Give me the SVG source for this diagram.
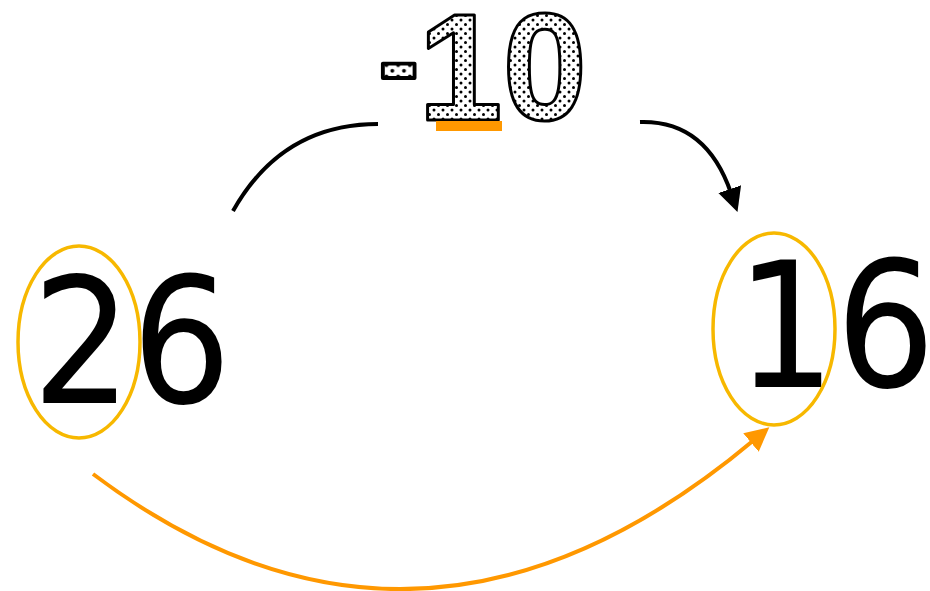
<svg xmlns="http://www.w3.org/2000/svg" width="930" height="591" viewBox="0 0 930 591">
<style>
.num{font-family:"DejaVu Sans",sans-serif;font-size:174px;fill:#000}
.ring{fill:none;stroke:#F7B800;stroke-width:3.5}
.dot{font-family:"Liberation Sans",Arial,sans-serif;font-weight:bold;fill:url(#dots);stroke:#000;stroke-width:3;stroke-linejoin:round}
.blk{fill:none;stroke:#000;stroke-width:4}
.org{fill:none;stroke:#FF9800;stroke-width:4}
</style>
<defs>
<pattern id="dots" width="9" height="9" patternUnits="userSpaceOnUse">
<rect width="9" height="9" fill="#fff"/>
<circle cx="2" cy="2" r="1.5" fill="#000"/>
<circle cx="6.5" cy="6.5" r="1.5" fill="#000"/>
</pattern>
<marker id="ab" markerWidth="26" markerHeight="24" refX="4" refY="12" orient="auto" markerUnits="userSpaceOnUse">
<path d="M0,0 L24,12 L0,24 z" fill="#000"/>
</marker>
<marker id="ao" markerWidth="26" markerHeight="24" refX="4" refY="12" orient="auto" markerUnits="userSpaceOnUse">
<path d="M0,0 L24,12 L0,24 z" fill="#FF9800"/>
</marker>
</defs>
<g id="label-minus10">
<text class="dot" transform="translate(378,102) scale(1.3,1.25)" x="0" y="0" font-size="96" stroke-width="2.5">-</text>
<text class="dot" x="418" y="120" font-size="152">10</text>
<rect x="436" y="121" width="66" height="10" fill="#FF9800"/>
</g>
<g id="node-26">
<text class="num" transform="translate(32,403) scale(0.9,1)" x="0" y="0">26</text>
<ellipse class="ring" cx="79" cy="342" rx="61" ry="96"/>
</g>
<g id="node-16">
<text class="num" transform="translate(736,387) scale(0.9,1)" x="0" y="0">16</text>
<ellipse class="ring" cx="774" cy="329" rx="61" ry="96"/>
</g>
<g id="connectors">
<path class="blk" d="M233,211 Q282,124 378,124"/>
<path class="blk" d="M640,122 Q706,120 731,193" marker-end="url(#ab)"/>
<path class="org" d="M93,474 Q420,720 754,440" marker-end="url(#ao)"/>
</g>
</svg>
